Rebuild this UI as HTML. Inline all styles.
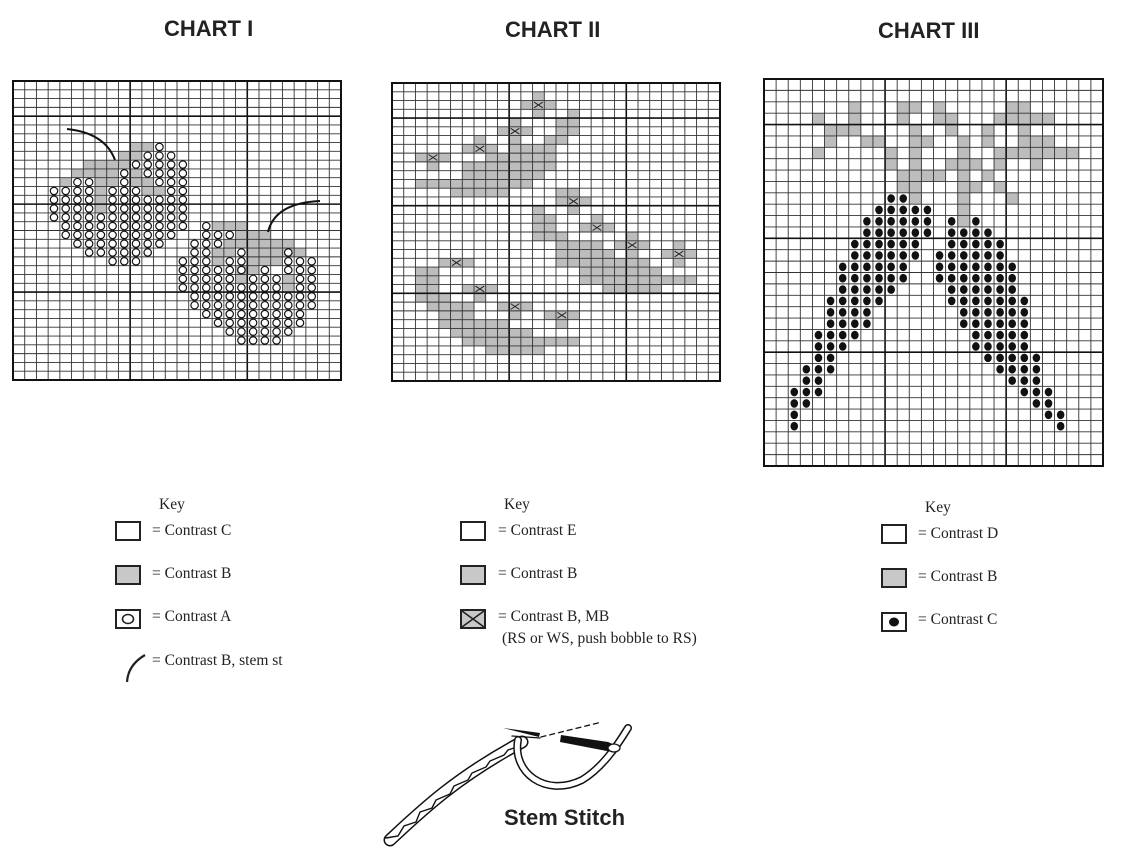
<!DOCTYPE html>
<html><head><meta charset="utf-8">
<style>
html,body{margin:0;padding:0;background:#fff;}
body{width:1124px;height:852px;position:relative;overflow:hidden;}
.t{position:absolute;font-family:"Liberation Sans",sans-serif;font-weight:bold;font-size:22px;color:#222;white-space:nowrap;}
.k{position:absolute;font-family:"Liberation Serif",serif;font-size:15.5px;color:#222;white-space:nowrap;}
</style></head><body>
<div class="t" style="left:164px;top:16px;">CHART I</div>
<div class="t" style="left:505px;top:17px;">CHART II</div>
<div class="t" style="left:878px;top:18px;">CHART III</div>
<div class="t" style="left:504px;top:805px;">Stem Stitch</div>

<div class="k" style="left:159px;top:496px;">Key</div>
<div class="k" style="left:152px;top:522px;">= Contrast C</div>
<div class="k" style="left:152px;top:565px;">= Contrast B</div>
<div class="k" style="left:152px;top:608px;">= Contrast A</div>
<div class="k" style="left:152px;top:652px;">= Contrast B, stem st</div>

<div class="k" style="left:504px;top:496px;">Key</div>
<div class="k" style="left:498px;top:522px;">= Contrast E</div>
<div class="k" style="left:498px;top:565px;">= Contrast B</div>
<div class="k" style="left:498px;top:608px;">= Contrast B, MB</div>
<div class="k" style="left:502px;top:630px;">(RS or WS, push bobble to RS)</div>

<div class="k" style="left:925px;top:499px;">Key</div>
<div class="k" style="left:918px;top:525px;">= Contrast D</div>
<div class="k" style="left:918px;top:568px;">= Contrast B</div>
<div class="k" style="left:918px;top:611px;">= Contrast C</div>

<svg id="s" width="1124" height="852" style="position:absolute;left:0;top:0;" xmlns="http://www.w3.org/2000/svg">
<rect x="116" y="522" width="24" height="18" fill="#fff" stroke="#222" stroke-width="2"/>
<rect x="116" y="566" width="24" height="18" fill="#c8c8c8" stroke="#222" stroke-width="2"/>
<rect x="116" y="610" width="24" height="18" fill="#fff" stroke="#222" stroke-width="2"/>
<ellipse cx="128" cy="619" rx="5.5" ry="4.5" fill="#fff" stroke="#222" stroke-width="1.6"/>
<path d="M127 682 Q128 665 145 655" fill="none" stroke="#222" stroke-width="2.2"/>

<rect x="461" y="522" width="24" height="18" fill="#fff" stroke="#222" stroke-width="2"/>
<rect x="461" y="566" width="24" height="18" fill="#c8c8c8" stroke="#222" stroke-width="2"/>
<rect x="461" y="610" width="24" height="18" fill="#c8c8c8" stroke="#222" stroke-width="2"/>
<path d="M462 611 L484 627 M484 611 L462 627" stroke="#222" stroke-width="1.6"/>

<rect x="882" y="525" width="24" height="18" fill="#fff" stroke="#222" stroke-width="2"/>
<rect x="882" y="569" width="24" height="18" fill="#c8c8c8" stroke="#222" stroke-width="2"/>
<rect x="882" y="613" width="24" height="18" fill="#fff" stroke="#222" stroke-width="2"/>
<ellipse cx="894" cy="622" rx="5" ry="4.5" fill="#111"/>

<g fill="none" stroke-linecap="round">
<path d="M390 840 C420 812 455 778 522 742" stroke="#111" stroke-width="13"/>
<path d="M390 840 C420 812 455 778 522 742" stroke="#fff" stroke-width="10"/>
<path d="M386 838 L398 836 L404 826 L416 822 L420 812 L432 808 L436 800 L450 794 L454 786 L468 780 L472 773 L486 767 L490 761 L504 755 L508 750 L520 746" stroke="#111" stroke-width="1.4"/>
<path d="M518 740 C512 772 545 798 582 780 C602 768 617 746 628 728" stroke="#111" stroke-width="8"/>
<path d="M518 740 C512 772 545 798 582 780 C602 768 617 746 628 728" stroke="#fff" stroke-width="5"/>
<path d="M512 736 L540 738" stroke="#111" stroke-width="1.3"/>
<path d="M541 737 L602 722" stroke="#111" stroke-width="1.3" stroke-dasharray="5,4"/>
</g>
<path d="M503 728 L540 733 L539 737 Z" fill="#111"/>
<path d="M561 735 L608 742 L620 747 L612 752 L560 742 Z" fill="#111"/>
<ellipse cx="614" cy="748" rx="6" ry="4" fill="#fff" stroke="#111" stroke-width="1.3"/>
</svg>

<script>
(function(){
var NS="http://www.w3.org/2000/svg", s=document.getElementById("s");
function el(n,a){var e=document.createElementNS(NS,n);for(var k in a)e.setAttribute(k,a[k]);s.appendChild(e);return e;}
function parse(str){var o=[];str.split(";").forEach(function(p){p=p.trim();if(!p)return;var a=p.split(":"),r=+a[0];a[1].split(",").forEach(function(q){var b=q.split("-"),c1=+b[0],c2=b.length>1?+b[1]:c1;for(var c=c1;c<=c2;c++)o.push([r,c]);});});return o;}
function chart(x0,y0,w,h,cols,rows,gray,circ,xs,dots){
  var cw=w/cols,rh=h/rows;
  el("rect",{x:x0,y:y0,width:w,height:h,fill:"#fff"});
  parse(gray).forEach(function(p){el("rect",{x:x0+p[1]*cw,y:y0+p[0]*rh,width:cw+0.3,height:rh+0.3,fill:"#bdbdbd"});});
  for(var c=1;c<cols;c++){var hv=(c%10==0);el("line",{x1:x0+c*cw,y1:y0,x2:x0+c*cw,y2:y0+h,stroke:hv?"#111":"#333","stroke-width":hv?1.6:0.9});}
  for(var r=1;r<rows;r++){var hv=((rows-r)%10==0);el("line",{x1:x0,y1:y0+r*rh,x2:x0+w,y2:y0+r*rh,stroke:hv?"#111":"#333","stroke-width":hv?1.6:0.9});}
  el("rect",{x:x0,y:y0,width:w,height:h,fill:"none",stroke:"#111","stroke-width":2});
  if(circ)parse(circ).forEach(function(p){el("circle",{cx:x0+(p[1]+.5)*cw,cy:y0+(p[0]+.5)*rh,r:3.7,fill:"#fff",stroke:"#111","stroke-width":1.2});});
  if(xs)parse(xs).forEach(function(p){var x=x0+p[1]*cw,y=y0+p[0]*rh;el("path",{d:"M"+(x+1.5)+" "+(y+1.5)+"L"+(x+cw-1.5)+" "+(y+rh-1.5)+"M"+(x+cw-1.5)+" "+(y+1.5)+"L"+(x+1.5)+" "+(y+rh-1.5),stroke:"#222","stroke-width":1});});
  if(dots)parse(dots).forEach(function(p){el("ellipse",{cx:x0+(p[1]+.5)*cw,cy:y0+(p[0]+.5)*rh,rx:3.8,ry:4.3,fill:"#111"});});
}
chart(13,81,328,299,28,34,
 "7:10-11;8:9-10;9:6-9;10:5-8,10;11:4,7-8,10-11;12:7,11-12;13:7;14:7;16:17-19;17:19-21;18:18-23;19:17-18,20-24;20:17,20-22;21:19-20;22:19,23;23:23",
 "7:12;8:11-13;9:10-14;10:9,11-14;11:5-6,9,12-14;12:3-6,8-10,13-14;13:3-6,8-14;14:3-6,8-14;15:3-14;16:4-14,16;17:4-13,16-18;18:5-12,15-17;19:6-11,15-16,19,23;20:8-10,14-16,18-19,23-25;21:14-19,21,23-25;22:14-18,20-22,24-25;23:14-22,24-25;24:15-25;25:15-25;26:16-24;27:17-24;28:18-23;29:19-22",
 null,null);
chart(392,83,328,298,28,34,
 "1:12;2:11-13;3:12,15;4:10,14-15;5:9-11,14-15;6:7,10,13-14;7:6-8,10-13;8:2-4,8-13;9:3,6-13;10:6-12;11:2-11;12:5-9,14-15;13:14-16;14:12,15;15:12-13,17;16:12-13,16-18;17:12-14,20;18:14-17,19-21,24;19:14-18,20,23-25;20:4-6,14-21,24;21:2-3,16-22;22:2-3,16-25;23:2-3,6-8,18-22;24:2-4,7;25:3-6,9-11;26:4-6,10,13-15;27:4-9,14;28:5-11;29:6-15;30:8-12",
 null,
 "2:12;5:10;7:7;8:3;13:15;16:17;18:20;19:24;20:5;23:7;25:10;26:14",null);
chart(764,79,339,387,28,34,
 "2:7,11-12,14,20-21;3:4,7,11,14-15,19-23;4:5-7,12,15,18,21;5:5,8-9,12-13,16,18,21-23;6:4,10,12,16,19-25;7:10,12,15-17,19,22;8:11-14,16,18;9:11-12,16-17,19;10:12,16,20;11:16;12:16",
 null,null,
 "10:10-11;11:9-13;12:8-13,15,17;13:8-13,15-18;14:7-12,15-19;15:7-12,14-19;16:6-11,14-20;17:6-11,14-20;18:6-10,15-20;19:5-9,15-21;20:5-8,16-21;21:5-8,16-21;22:4-7,17-21;23:4-6,17-21;24:4-5,18-22;25:3-5,19-22;26:3-4,20-22;27:2-4,21-23;28:2-3,22-23;29:2,23-24;30:2,24");
el("path",{d:"M67 129 Q105 133 115 160",fill:"none",stroke:"#111","stroke-width":2});
el("path",{d:"M268 232 Q275 203 320 201",fill:"none",stroke:"#111","stroke-width":2});
})();
</script>
</body></html>
